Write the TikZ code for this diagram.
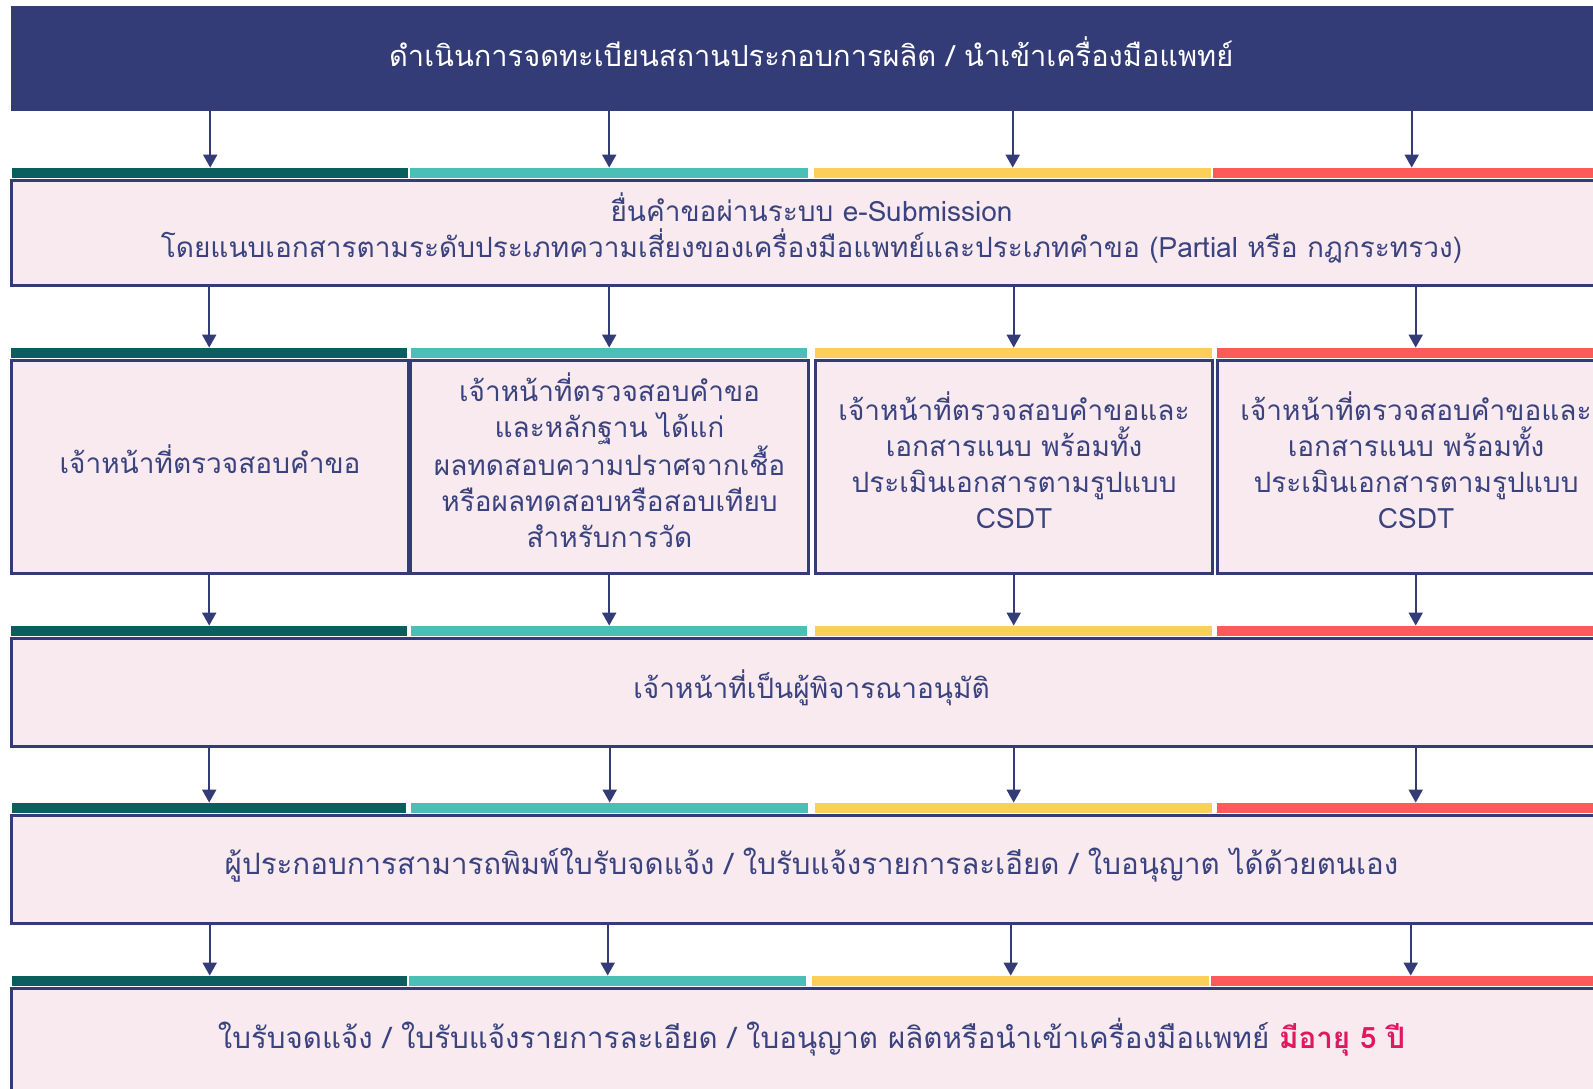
\documentclass[tikz,border=0pt]{standalone}
\usepackage{fontspec}
\newfontfamily\thai[Script=Thai]{Loma}
\usetikzlibrary{arrows.meta}
\definecolor{navy}{HTML}{343C78}
\definecolor{txt}{HTML}{3A4380}
\definecolor{pinkbg}{HTML}{F8EAEE}
\definecolor{dteal}{HTML}{0B5E5E}
\definecolor{lteal}{HTML}{4BBFB5}
\definecolor{yel}{HTML}{FBCF5A}
\definecolor{redb}{HTML}{FF5A5A}
\definecolor{mag}{HTML}{E0185F}
\tikzset{
  bar/.style={rectangle, inner sep=0pt, minimum height=10pt, anchor=south west},
  box/.style={rectangle, draw=navy, line width=3pt, fill=pinkbg, anchor=north west, inner sep=0pt},
  lbl/.style={inner sep=0pt, align=center, text=txt, font=\thai\fontsize{28}{36}\selectfont},
  lblw/.style={lbl, font=\thai\fontsize{29.5}{36}\selectfont},
  arr/.style={draw=navy, line width=2pt, -{Triangle[width=14pt,length=13pt]}}
}
\begin{document}
\begin{tikzpicture}[x=1pt,y=-1pt]
\clip (0,0) rectangle (1593,1088);
\fill[white] (0,0) rectangle (1593,1088);
% header
\node[rectangle, fill=navy, anchor=north west, minimum width=1600pt, minimum height=105pt, inner sep=0pt] (hdr) at (11,6) {};
\node[lbl, text=white, font=\thai\fontsize{29}{36}\selectfont] (thdr) at ([yshift=7pt]hdr.center)
  {ดำเนินการจดทะเบียนสถานประกอบการผลิต / นำเข้าเครื่องมือแพทย์};
% row 1 bars
\node[bar, fill=dteal, minimum width=396pt] (r1a) at (12,178) {};
\node[bar, fill=lteal, minimum width=398pt] (r1b) at (410,178) {};
\node[bar, fill=yel, minimum width=397pt] (r1c) at (814,178) {};
\node[bar, fill=redb, minimum width=397pt] (r1d) at (1213,178) {};
% row 1 box
\node[box, minimum width=1600pt, minimum height=105pt] (b1) at (10,179) {};
\node[lbl] (tb1) at ([yshift=5pt]b1.center)
  {ยื่นคำขอผ่านระบบ e-Submission\\โดยแนบเอกสารตามระดับประเภทความเสี่ยงของเครื่องมือแพทย์และประเภทคำขอ (Partial หรือ กฎกระทรวง)};
% row 2 bars
\node[bar, fill=dteal, minimum width=396pt] (r2a) at (11,358) {};
\node[bar, fill=lteal, minimum width=396pt] (r2b) at (411,358) {};
\node[bar, fill=yel, minimum width=397pt] (r2c) at (815,358) {};
\node[bar, fill=redb, minimum width=397pt] (r2d) at (1217,358) {};
% row 2 boxes
\node[box, minimum width=397pt, minimum height=213pt] (b2a) at (10,359) {};
\node[box, minimum width=398pt, minimum height=213pt] (b2b) at (409,359) {};
\node[box, minimum width=397pt, minimum height=213pt] (b2c) at (814,359) {};
\node[box, minimum width=397pt, minimum height=213pt] (b2d) at (1216,359) {};
\node[lbl] (tb2a) at ([yshift=8pt]b2a.center) {เจ้าหน้าที่ตรวจสอบคำขอ};
\node[lbl] (tb2b) at ([yshift=7pt]b2b.center)
  {เจ้าหน้าที่ตรวจสอบคำขอ\\และหลักฐาน ได้แก่\\ผลทดสอบความปราศจากเชื้อ\\หรือผลทดสอบหรือสอบเทียบ\\สำหรับการวัด};
\node[lbl] (tb2c) at ([yshift=7pt]b2c.center)
  {เจ้าหน้าที่ตรวจสอบคำขอและ\\เอกสารแนบ พร้อมทั้ง\\ประเมินเอกสารตามรูปแบบ\\CSDT};
\node[lbl] (tb2d) at ([yshift=7pt]b2d.center)
  {เจ้าหน้าที่ตรวจสอบคำขอและ\\เอกสารแนบ พร้อมทั้ง\\ประเมินเอกสารตามรูปแบบ\\CSDT};
% row 3 bars
\node[bar, fill=dteal, minimum width=396pt] (r3a) at (11,636) {};
\node[bar, fill=lteal, minimum width=396pt] (r3b) at (411,636) {};
\node[bar, fill=yel, minimum width=397pt] (r3c) at (815,636) {};
\node[bar, fill=redb, minimum width=397pt] (r3d) at (1217,636) {};
\node[box, minimum width=1600pt, minimum height=108pt] (b3) at (10,637) {};
\node[lbl] (tb3) at ([yshift=5pt]b3.center) {เจ้าหน้าที่เป็นผู้พิจารณาอนุมัติ};
% row 4 bars
\node[bar, fill=dteal, minimum width=394pt] (r4a) at (12,813) {};
\node[bar, fill=lteal, minimum width=397pt] (r4b) at (411,813) {};
\node[bar, fill=yel, minimum width=397pt] (r4c) at (815,813) {};
\node[bar, fill=redb, minimum width=397pt] (r4d) at (1217,813) {};
\node[box, minimum width=1600pt, minimum height=108pt] (b4) at (10,814) {};
\node[lblw] (tb4) at ([yshift=4pt]b4.center)
  {ผู้ประกอบการสามารถพิมพ์ใบรับจดแจ้ง / ใบรับแจ้งรายการละเอียด / ใบอนุญาต ได้ด้วยตนเอง};
% row 5 bars
\node[bar, fill=dteal, minimum width=395pt] (r5a) at (12,986) {};
\node[bar, fill=lteal, minimum width=397pt] (r5b) at (409,986) {};
\node[bar, fill=yel, minimum width=397pt] (r5c) at (812,986) {};
\node[bar, fill=redb, minimum width=399pt] (r5d) at (1211,986) {};
\node[box, minimum width=1600pt, minimum height=104pt] (b5) at (10,987) {};
\node[lblw] (tb5) at ([yshift=3pt]b5.center)
  {ใบรับจดแจ้ง / ใบรับแจ้งรายการละเอียด / ใบอนุญาต ผลิตหรือนำเข้าเครื่องมือแพทย์ {\color{mag}\bfseries มีอายุ 5 ปี}};
% arrows
\foreach \s in {a,b,c,d}{
  \draw[arr] (hdr.south -| r1\s.north) -- (r1\s.north);
  \draw[arr] (b1.south -| r2\s.north) -- (r2\s.north);
  \draw[arr] (b2\s.south -| r3\s.north) -- (r3\s.north);
  \draw[arr] (b3.south -| r4\s.north) -- (r4\s.north);
  \draw[arr] (b4.south -| r5\s.north) -- (r5\s.north);
}
\end{tikzpicture}
\end{document}
